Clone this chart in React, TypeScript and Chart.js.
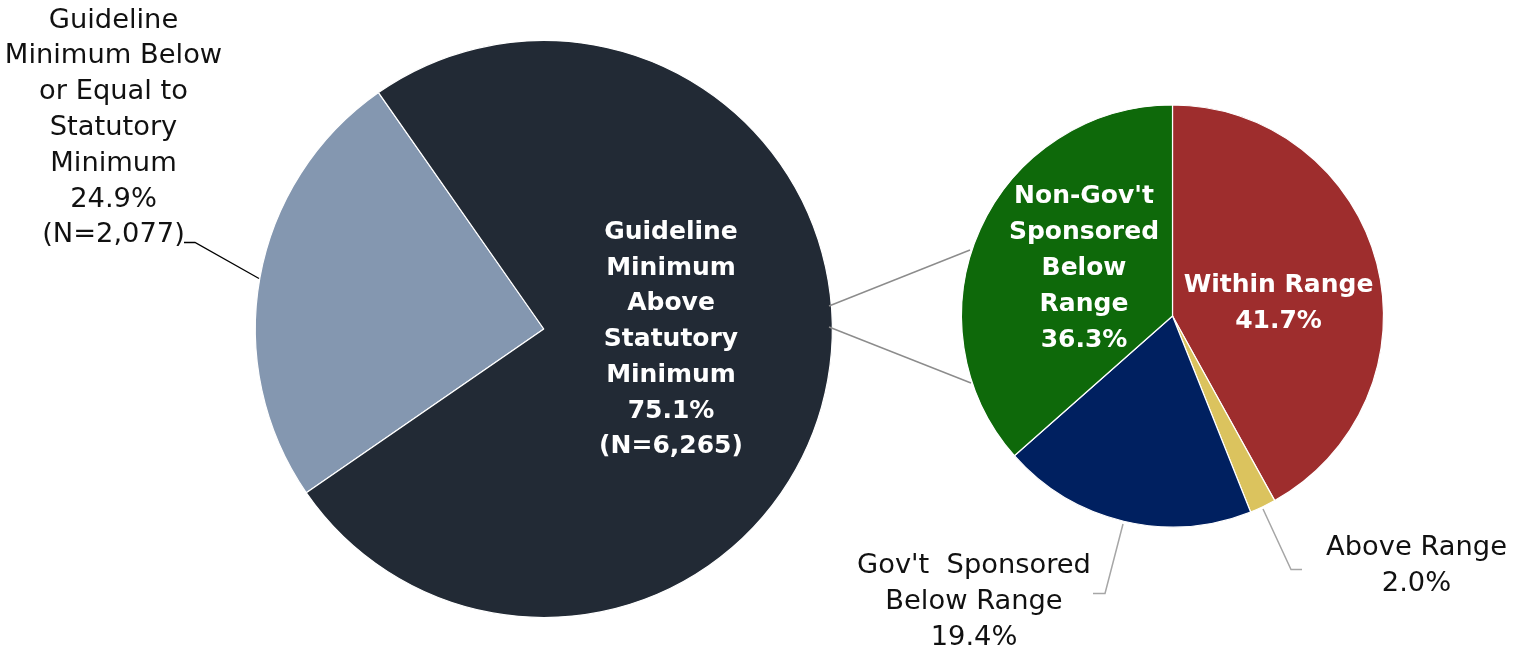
import React, { useEffect, useRef } from "react";
import { Chart, registerables } from "chart.js";
Chart.register(...registerables);

// ---- data ----
const bigLabels = [
  "Guideline Minimum Below or Equal to Statutory Minimum",
  "Guideline Minimum Above Statutory Minimum",
];
const bigValues = [24.9, 75.1];
const bigCounts = ["2,077", "6,265"];
const bigColors = ["#8497B0", "#222A35"];
const bigLabelLines = [
  ["Guideline", "Minimum Below", "or Equal to", "Statutory", "Minimum"],
  ["Guideline", "Minimum", "Above", "Statutory", "Minimum"],
];

const smallLabels = [
  "Within Range",
  "Above Range",
  "Gov't  Sponsored Below Range",
  "Non-Gov't Sponsored Below Range",
];
const smallValues = [41.7, 2.0, 19.4, 36.3];
const smallColors = ["#9E2D2D", "#DBC35E", "#002060", "#0E690A"];
const smallLabelLines = [
  ["Within Range"],
  ["Above Range"],
  ["Gov't  Sponsored", "Below Range"],
  ["Non-Gov't", "Sponsored", "Below", "Range"],
];

const W = 1517;
const H = 650;
const FONT = "'DejaVu Sans', sans-serif";
const REG = `27.3px ${FONT}`;
const BOLD = `bold 25px ${FONT}`;

function drawLines(
  ctx: CanvasRenderingContext2D,
  lines: string[],
  cx: number,
  y0: number,
  step: number,
  font: string,
  color: string
) {
  ctx.save();
  ctx.font = font;
  ctx.fillStyle = color;
  ctx.textAlign = "center";
  ctx.textBaseline = "alphabetic";
  lines.forEach((l, i) => ctx.fillText(l, cx, y0 + i * step));
  ctx.restore();
}

function polyline(ctx: CanvasRenderingContext2D, pts: number[][], color: string, w: number) {
  ctx.save();
  ctx.strokeStyle = color;
  ctx.lineWidth = w;
  ctx.beginPath();
  pts.forEach((p, i) => (i === 0 ? ctx.moveTo(p[0], p[1]) : ctx.lineTo(p[0], p[1])));
  ctx.stroke();
  ctx.restore();
}

const pct = (v: number) => v.toFixed(1) + "%";

const bigPlugin = {
  id: "bigLabels",
  afterDraw(chart: any) {
    const ctx = chart.ctx as CanvasRenderingContext2D;
    drawLines(
      ctx,
      [...bigLabelLines[0], pct(bigValues[0]), `(N=${bigCounts[0]})`],
      113.5,
      27.5,
      35.8,
      REG,
      "#111111"
    );
    polyline(ctx, [[184, 242.5], [195, 242.5], [259, 278.5]], "#000000", 1.3);
    drawLines(
      ctx,
      [...bigLabelLines[1], pct(bigValues[1]), `(N=${bigCounts[1]})`],
      671,
      239,
      35.7,
      BOLD,
      "#FFFFFF"
    );
  },
};

const smallPlugin = {
  id: "smallLabels",
  afterDraw(chart: any) {
    const ctx = chart.ctx as CanvasRenderingContext2D;
    polyline(ctx, [[829, 306], [970, 250]], "#8C8C8C", 1.4);
    polyline(ctx, [[829, 327], [971, 383]], "#8C8C8C", 1.4);
    drawLines(ctx, [...smallLabelLines[0], pct(smallValues[0])], 1278.5, 292, 36, BOLD, "#FFFFFF");
    drawLines(ctx, [...smallLabelLines[3], pct(smallValues[3])], 1084, 203, 36, BOLD, "#FFFFFF");
    drawLines(ctx, [...smallLabelLines[1], pct(smallValues[1])], 1416.5, 555, 35.7, REG, "#111111");
    polyline(ctx, [[1263, 509], [1291, 569.5], [1302, 569.5]], "#A6A6A6", 1.5);
    drawLines(ctx, [...smallLabelLines[2], pct(smallValues[2])], 974, 573, 36, REG, "#111111");
    polyline(ctx, [[1123, 524], [1105, 593.5], [1093, 593.5]], "#A6A6A6", 1.5);
  },
};

export default function App() {
  const bigRef = useRef<HTMLCanvasElement>(null);
  const smallRef = useRef<HTMLCanvasElement>(null);

  useEffect(() => {
    const big = new Chart(bigRef.current!, {
      type: "pie",
      data: {
        labels: bigLabels,
        datasets: [
          {
            data: bigValues,
            backgroundColor: bigColors,
            borderColor: "#FFFFFF",
            borderWidth: 1.2,
            hoverOffset: 0,
          },
        ],
      },
      options: {
        responsive: false,
        animation: false,
        devicePixelRatio: 1,
        events: [],
        rotation: 235.4,
        radius: 288.5,
        layout: { padding: { left: 255.3, right: W - 832.3, top: 40.5, bottom: H - 617.5 } },
        plugins: { legend: { display: false }, tooltip: { enabled: false } },
      },
      plugins: [bigPlugin],
    });
    const small = new Chart(smallRef.current!, {
      type: "pie",
      data: {
        labels: smallLabels,
        datasets: [
          {
            data: smallValues,
            backgroundColor: smallColors,
            borderColor: "#FFFFFF",
            borderWidth: 1.2,
            hoverOffset: 0,
          },
        ],
      },
      options: {
        responsive: false,
        animation: false,
        devicePixelRatio: 1,
        events: [],
        rotation: 0,
        radius: 211,
        layout: { padding: { left: 961.5, right: W - 1383.5, top: 105, bottom: H - 527 } },
        plugins: { legend: { display: false }, tooltip: { enabled: false } },
      },
      plugins: [smallPlugin],
    });
    return () => {
      big.destroy();
      small.destroy();
    };
  }, []);

  const cs: React.CSSProperties = { position: "absolute", left: 0, top: 0, width: W, height: H };
  return (
    <div style={{ position: "absolute", left: 0, top: 0, width: W, height: H, background: "#FFFFFF" }}>
      <canvas ref={bigRef} width={W} height={H} style={cs} />
      <canvas ref={smallRef} width={W} height={H} style={cs} />
    </div>
  );
}
